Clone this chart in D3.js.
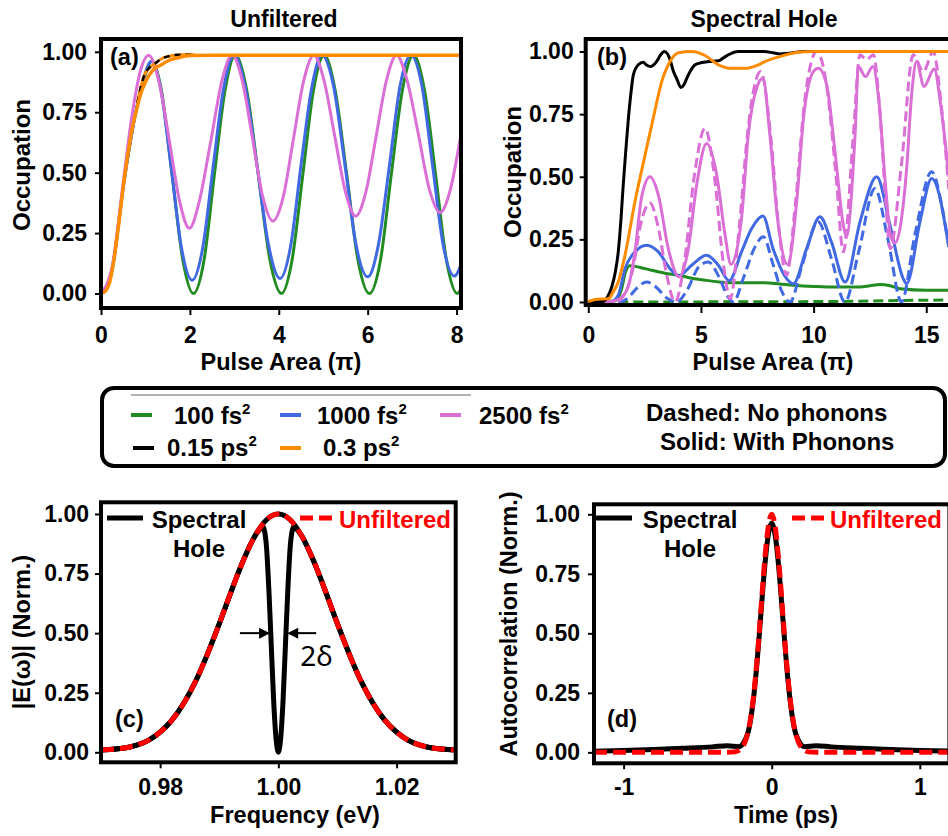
<!DOCTYPE html>
<html>
<head>
<meta charset="utf-8">
<title>Occupation vs pulse area, unfiltered and spectral hole</title>
<script src="https://cdn.jsdelivr.net/npm/d3@7"></script>
<style>
  body { margin: 0; background: #fff; }
  svg { display: block; }
</style>
</head>
<body>
<svg id="fig" width="948" height="836"></svg>
<script>
// ---------- values ----------
// (a) unfiltered: [pulse area (pi), occupation]
var aGreen = [[0,0],[0.25,0.1],[0.5,0.44],[0.75,0.72],[0.95,0.88],[1.14,0.96],[1.36,0.84],[1.6,0.49],[1.84,0.14],[2.08,0],
  [2.32,0.14],[2.55,0.49],[2.79,0.84],[3.02,0.986],[3.28,0.84],[3.54,0.49],[3.8,0.14],[4.06,0],[4.3,0.14],[4.54,0.49],
  [4.78,0.84],[5.02,0.986],[5.27,0.84],[5.53,0.49],[5.78,0.14],[6.04,0],[6.29,0.14],[6.53,0.49],[6.78,0.84],[7.03,0.986],
  [7.28,0.84],[7.53,0.49],[7.77,0.14],[8.02,0],[8.1,0.02]];
var aBlue = [[0,0],[0.25,0.1],[0.5,0.44],[0.75,0.72],[0.95,0.88],[1.13,0.96],[1.34,0.85],[1.58,0.52],[1.81,0.19],[2.05,0.055],
  [2.29,0.19],[2.52,0.52],[2.76,0.85],[2.99,0.986],[3.25,0.85],[3.51,0.53],[3.77,0.2],[4.03,0.062],[4.27,0.2],[4.5,0.53],
  [4.74,0.85],[4.97,0.986],[5.23,0.86],[5.49,0.53],[5.74,0.2],[6.0,0.069],[6.24,0.2],[6.49,0.53],[6.73,0.86],[6.97,0.986],
  [7.22,0.86],[7.46,0.53],[7.7,0.2],[7.95,0.072],[8.1,0.12]];
var aPink = [[0,0],[0.25,0.11],[0.5,0.46],[0.7,0.74],[0.9,0.93],[1.07,0.986],[1.3,0.88],[1.54,0.63],[1.77,0.38],[1.99,0.27],
  [2.21,0.38],[2.47,0.63],[2.72,0.88],[2.95,0.986],[3.18,0.88],[3.41,0.64],[3.64,0.4],[3.87,0.3],[4.1,0.4],[4.33,0.64],
  [4.56,0.88],[4.79,0.986],[5.02,0.88],[5.26,0.65],[5.5,0.42],[5.73,0.32],[5.96,0.42],[6.19,0.65],[6.42,0.88],[6.65,0.986],
  [6.89,0.88],[7.14,0.66],[7.39,0.43],[7.63,0.335],[7.86,0.43],[8.1,0.66]];
var aOrange = [[0,0],[0.1,0.01],[0.2,0.05],[0.3,0.15],[0.4,0.29],[0.5,0.44],[0.6,0.57],[0.7,0.68],[0.8,0.76],[0.9,0.83],
  [1.0,0.875],[1.2,0.93],[1.35,0.945],[1.5,0.962],[1.73,0.975],[2.0,0.985],[2.5,0.986],[8.1,0.986]];
var aFastRise = [[0.82,0.79],[0.98,0.905],[1.24,0.955],[1.43,0.977],[1.8,0.988],[2.1,0.988]];

// (b) spectral hole
var bGreen = [[0,0],[1.2,0.005],[1.48,0.053],[1.65,0.12],[1.85,0.145],[2.3,0.138],[2.81,0.127],[3.4,0.115],[4.0,0.107],
  [4.6,0.095],[5.18,0.087],[5.8,0.08],[6.36,0.077],[7.0,0.077],[7.84,0.077],[8.5,0.072],[9.1,0.067],[10.0,0.062],
  [10.58,0.06],[12.06,0.06],[12.5,0.065],[12.95,0.07],[13.4,0.065],[13.84,0.053],[15.0,0.047],[16,0.047]];
var bGreenDash = [[0,0],[8,0.001],[12,0.003],[14,0.006],[16,0.008]];
var bBlue = [[0,0],[1.0,0],[1.33,0.027],[1.63,0.133],[2.07,0.2],[2.59,0.227],[3.11,0.2],[3.63,0.133],[4.0,0.105],
  [4.59,0.147],[5.25,0.187],[5.77,0.147],[6.25,0.085],[6.8,0.2],[7.25,0.293],[7.75,0.343],[8.2,0.213],[8.7,0.107],
  [9.1,0.073],[9.69,0.213],[10.28,0.34],[10.79,0.24],[11.4,0.08],[12.06,0.32],[12.8,0.5],[13.39,0.307],[13.98,0.093],
  [14.13,0.073],[14.72,0.32],[15.24,0.493],[15.6,0.42],[15.85,0.3],[16,0.22]];
var bBlueDash = [[0,0],[1.4,0],[1.8,0.02],[2.2,0.06],[2.59,0.08],[3.0,0.06],[3.5,0.015],[3.92,0],[4.4,0.05],[4.9,0.14],
  [5.33,0.16],[5.8,0.1],[6.2,0.02],[6.44,0],[6.9,0.1],[7.4,0.22],[7.77,0.26],[8.2,0.15],[8.6,0.04],[8.95,0],[9.5,0.15],
  [10.2,0.32],[10.8,0.17],[11.39,0],[12.0,0.2],[12.72,0.453],[13.3,0.25],[13.9,0],[14.5,0.27],[15.24,0.52],[15.7,0.38],
  [16,0.22]];
var bPink = [[0,0],[0.8,0],[1.18,0.005],[1.5,0.02],[1.8,0.07],[2.07,0.2],[2.37,0.42],[2.74,0.5],[3.11,0.427],[3.55,0.213],
  [4.03,0.1],[4.44,0.213],[4.81,0.467],[5.25,0.633],[5.7,0.507],[6.07,0.267],[6.33,0.15],[6.8,0.333],[7.1,0.667],
  [7.47,0.853],[7.75,0.893],[8.06,0.667],[8.4,0.333],[8.85,0.15],[9.25,0.4],[9.55,0.733],[9.99,0.92],[10.21,0.933],
  [10.58,0.867],[10.95,0.6],[11.32,0.307],[11.45,0.26],[11.84,0.667],[11.99,0.94],[12.3,0.9],[12.63,0.94],[12.9,0.8],
  [13.19,0.467],[13.41,0.267],[13.6,0.235],[14.13,0.533],[14.35,0.827],[14.57,0.96],[14.9,0.86],[15.35,0.93],
  [15.65,0.78],[16,0.5]];
var bPinkDash = [[0,0],[1.2,0],[1.6,0.03],[2.0,0.14],[2.3,0.3],[2.74,0.395],[3.1,0.3],[3.5,0.1],[3.85,0],[4.25,0.15],
  [4.7,0.5],[5.18,0.693],[5.6,0.5],[6.0,0.15],[6.3,0.013],[6.7,0.3],[7.1,0.7],[7.65,0.92],[8.1,0.66],[8.45,0.3],
  [8.8,0.107],[9.2,0.4],[9.6,0.8],[10.14,1.0],[10.6,0.85],[11.0,0.5],[11.32,0.2],[11.75,0.65],[12.06,0.987],
  [12.35,0.967],[12.65,0.987],[12.95,0.75],[13.2,0.4],[13.4,0.213],[13.9,0.55],[14.42,0.987],[14.87,0.92],[15.31,1.0],
  [15.65,0.8],[16,0.45]];
var bBlack = [[0,0],[0.4,0],[0.67,0.003],[0.85,0.02],[1.04,0.06],[1.2,0.12],[1.33,0.2],[1.45,0.33],[1.55,0.467],
  [1.67,0.61],[1.78,0.733],[1.9,0.84],[2.0,0.907],[2.22,0.947],[2.44,0.957],[2.6,0.945],[2.74,0.94],[3.03,0.96],
  [3.2,0.985],[3.37,1.0],[3.52,0.99],[3.63,0.967],[3.78,0.92],[3.92,0.893],[4.11,0.856],[4.25,0.868],[4.37,0.893],
  [4.55,0.925],[4.74,0.947],[5.0,0.955],[5.33,0.96],[5.77,0.963],[6.0,0.975],[6.22,0.987],[6.66,1.0],[7.8,1.0],
  [8.2,0.995],[8.5,0.99],[8.9,0.993],[9.55,1.0],[16,1.0]];
var bOrange = [[0,0.002],[0.3,0.01],[0.6,0.012],[0.89,0.013],[1.1,0.04],[1.33,0.08],[1.63,0.187],[2.07,0.4],[2.52,0.587],
  [2.88,0.733],[3.26,0.88],[3.63,0.96],[3.99,0.995],[4.59,1.0],[5.18,0.984],[5.77,0.947],[6.36,0.933],[6.95,0.933],
  [7.55,0.947],[7.84,0.96],[8.5,0.98],[9.4,0.998],[10,1.0],[16,1.0]];

// (c) spectrum
var freqC = [0.970,0.972,0.974,0.976,0.978,0.980,0.982,0.984,0.986,0.988,0.990,0.992,0.994,0.996,0.998,1.000,
  1.002,1.004,1.006,1.008,1.010,1.012,1.014,1.016,1.018,1.020,1.022,1.024,1.026,1.028,1.030];
var unfiltC = [0.01,0.013,0.018,0.03,0.05,0.085,0.135,0.206,0.298,0.411,0.539,0.674,0.801,0.906,0.976,1.0,
  0.976,0.906,0.801,0.674,0.539,0.411,0.298,0.206,0.135,0.085,0.05,0.03,0.018,0.013,0.01];
var holeFreqC = [0.970,0.974,0.978,0.982,0.986,0.990,0.994,0.996,0.997,0.9973,0.9976,0.998,0.9984,0.9988,0.9992,0.9996,
  1.0,1.0004,1.0008,1.0012,1.0016,1.002,1.0024,1.0027,1.003,1.004,1.006,1.010,1.014,1.018,1.022,1.026,1.030];
var holeC = [0.01,0.018,0.05,0.135,0.298,0.539,0.801,0.906,0.94,0.948,0.935,0.86,0.68,0.45,0.22,0.06,
  0,0.06,0.22,0.45,0.68,0.86,0.935,0.948,0.94,0.906,0.801,0.539,0.298,0.135,0.05,0.018,0.01];

// (d) autocorrelation
var timeD = [-1.2,-0.6,-0.3,-0.25,-0.2,-0.175,-0.15,-0.125,-0.1,-0.075,-0.05,-0.025,0,
  0.025,0.05,0.075,0.1,0.125,0.15,0.175,0.2,0.25,0.3,0.6,1.2];
var unfiltD = [0,0,0,0.002,0.021,0.052,0.114,0.222,0.381,0.581,0.786,0.94,1.0,
  0.94,0.786,0.581,0.381,0.222,0.114,0.052,0.021,0.002,0,0,0];
var holeTimeD = [-1.2,-1.0,-0.8,-0.6,-0.4,-0.3,-0.22,-0.19,-0.15,-0.125,-0.1,-0.075,-0.05,-0.025,0,
  0.025,0.05,0.075,0.1,0.125,0.15,0.19,0.22,0.3,0.4,0.6,0.8,1.0,1.2];
var holeD = [0.005,0.008,0.012,0.017,0.023,0.028,0.024,0.04,0.11,0.215,0.37,0.565,0.76,0.905,0.962,
  0.905,0.76,0.565,0.37,0.215,0.11,0.04,0.024,0.028,0.023,0.017,0.012,0.008,0.005];

var occTicks = [0, 0.25, 0.5, 0.75, 1];
var aTicks = [0, 2, 4, 6, 8];
var bTicks = [0, 5, 10, 15];
var cTicks = [0.98, 1.00, 1.02];
var dTicks = [-1, 0, 1];

// ---------- drawing ----------
var FONT = '"Liberation Sans", Arial, Helvetica, sans-serif';
var green = '#228b22', blue = '#4169e1', pink = '#da70d6', orange = '#ff8c00', red = '#ff0000';
var dashSmall = '10,5', dashBig = '13,6';

var svg = d3.select('#fig')
  .attr('font-family', FONT)
  .attr('font-weight', 'bold');
svg.append('rect').attr('width', 948).attr('height', 836).attr('fill', '#fff');

function makePanel(o) {
  var x = d3.scaleLinear().domain(o.xd).range([o.left, o.right]);
  var y = d3.scaleLinear().domain(o.yd).range([o.bottom, o.top]);
  svg.append('clipPath').attr('id', 'clip-' + o.name)
    .append('rect')
    .attr('x', o.left).attr('y', o.top)
    .attr('width', o.right - o.left).attr('height', o.bottom - o.top);
  var g = svg.append('g').attr('clip-path', 'url(#clip-' + o.name + ')');
  return {x: x, y: y, g: g, o: o};
}

function addLine(p, data, color, width, dash) {
  var line = d3.line()
    .x(function(d) { return p.x(d[0]); })
    .y(function(d) { return p.y(d[1]); })
    .curve(d3.curveMonotoneX);
  p.g.append('path')
    .datum(data)
    .attr('d', line)
    .attr('fill', 'none')
    .attr('stroke', color)
    .attr('stroke-width', width)
    .attr('stroke-dasharray', dash || null)
    .attr('stroke-linejoin', 'round');
}

function styleAxis(sel) {
  sel.attr('font-family', FONT).attr('font-size', 23).attr('font-weight', 'bold');
  sel.select('.domain').remove();
  sel.selectAll('.tick line').attr('stroke', '#000').attr('stroke-width', 2);
  sel.selectAll('.tick text').attr('fill', '#000');
}

function finishPanel(p, xt, xfmt, xTick, xPad, yPad) {
  var o = p.o;
  svg.append('g')
    .attr('transform', 'translate(0,' + o.bottom + ')')
    .call(d3.axisBottom(p.x).tickValues(xt).tickFormat(xfmt).tickSize(xTick).tickPadding(xPad))
    .call(styleAxis);
  svg.append('g')
    .attr('transform', 'translate(' + o.left + ',0)')
    .call(d3.axisLeft(p.y).tickValues(occTicks).tickFormat(d3.format('.2f')).tickSize(6).tickPadding(yPad))
    .call(styleAxis);
  svg.append('rect')
    .attr('x', o.left).attr('y', o.top)
    .attr('width', o.right - o.left).attr('height', o.bottom - o.top)
    .attr('fill', 'none').attr('stroke', '#000').attr('stroke-width', 4);
}

function label(x, y, txt, size, opts) {
  opts = opts || {};
  var t = svg.append('text')
    .attr('x', x).attr('y', y)
    .attr('font-size', size)
    .attr('text-anchor', opts.anchor || 'middle')
    .attr('fill', opts.color || '#000')
    .text(txt);
  if (opts.rotate) {
    t.attr('x', 0).attr('y', 0)
      .attr('transform', 'translate(' + x + ',' + y + ') rotate(-90)');
  }
  if (opts.family) t.attr('font-family', opts.family);
  if (opts.weight) t.attr('font-weight', opts.weight);
  return t;
}

var intFmt = function(d) { return String(d); };

// panel (a)
var pa = makePanel({name: 'a', left: 101, right: 461, top: 39, bottom: 308, xd: [0, 8.1], yd: [-0.06, 1.053]});
addLine(pa, aGreen, green, 3);
addLine(pa, aBlue, blue, 3);
addLine(pa, aPink, pink, 3);
addLine(pa, aFastRise, orange, 3);
addLine(pa, aFastRise, '#000', 2.5, '6,5');
addLine(pa, aOrange, orange, 3.5);
finishPanel(pa, aTicks, intFmt, 7, 12, 8);

// panel (b)
var pb = makePanel({name: 'b', left: 585.7, right: 953.3, top: 39, bottom: 305, xd: [-0.115, 16.2], yd: [-0.012, 1.05]});
addLine(pb, bGreenDash, green, 3, dashSmall);
addLine(pb, bGreen, green, 3);
addLine(pb, bBlueDash, blue, 3, dashSmall);
addLine(pb, bBlue, blue, 3);
addLine(pb, bPinkDash, pink, 3, dashSmall);
addLine(pb, bPink, pink, 3);
addLine(pb, bBlack, '#000', 3);
addLine(pb, bOrange, orange, 3);
finishPanel(pb, bTicks, intFmt, 8, 14, 6);

// panel (c)
var pc = makePanel({name: 'c', left: 101, right: 455.7, top: 502.3, bottom: 762.3, xd: [0.97, 1.03], yd: [-0.042, 1.049]});
addLine(pc, d3.zip(holeFreqC, holeC), '#000', 5);
addLine(pc, d3.zip(freqC, unfiltC), '#000', 5);
addLine(pc, d3.zip(freqC, unfiltC), red, 5, dashBig);
finishPanel(pc, cTicks, d3.format('.2f'), 6, 10, 6);

// panel (d)
var pd = makePanel({name: 'd', left: 594, right: 949.4, top: 504.3, bottom: 763.3, xd: [-1.2, 1.2], yd: [-0.046, 1.042]});
addLine(pd, d3.zip(holeTimeD, holeD), '#000', 5);
addLine(pd, d3.zip(timeD, unfiltD), red, 5, dashBig);
finishPanel(pd, dTicks, intFmt, 6, 9, 8);

// titles and axis labels
label(284, 27, 'Unfiltered', 23);
label(764, 27, 'Spectral Hole', 23);
label(281, 370, 'Pulse Area (\u03c0)', 23.5);
label(773, 370, 'Pulse Area (\u03c0)', 23.5);
label(30, 165, 'Occupation', 24, {rotate: true});
label(521, 172, 'Occupation', 24, {rotate: true});
label(30, 632, '|E(\u03c9)| (Norm.)', 23.5, {rotate: true});
label(517, 624, 'Autocorrelation (Norm.)', 23.5, {rotate: true});
label(295, 823, 'Frequency (eV)', 23.5);
label(786, 823, 'Time (ps)', 23.5);

label(110, 65, '(a)', 23.5, {anchor: 'start'});
label(597, 65, '(b)', 23.5, {anchor: 'start'});
label(115, 727, '(c)', 23.5, {anchor: 'start'});
label(607, 727, '(d)', 23.5, {anchor: 'start'});

// (c) annotation: hole width arrows
var arrowY = pc.y(0.5);
var arrows = [{tail: 0.9935, tip: 0.9986}, {tail: 1.0064, tip: 1.0015}];
arrows.forEach(function(a) {
  var x0 = pc.x(a.tail), x1 = pc.x(a.tip), s = x1 > x0 ? 1 : -1;
  svg.append('line')
    .attr('x1', x0).attr('y1', arrowY).attr('x2', x1 - s * 8).attr('y2', arrowY)
    .attr('stroke', '#000').attr('stroke-width', 2);
  svg.append('path')
    .attr('d', 'M' + x1 + ',' + arrowY + 'L' + (x1 - s * 11) + ',' + (arrowY - 5.5) +
      'L' + (x1 - s * 11) + ',' + (arrowY + 5.5) + 'Z')
    .attr('fill', '#000');
});
label(pc.x(1.0037), pc.y(0.362), '2\u03b4', 28, {anchor: 'start', family: '"Noto Sans", "DejaVu Sans", sans-serif', weight: 'normal'});

// (c) and (d) legends
[{left: 101, xs: [107, 143, 199, 300, 333, 339]}, {left: 594, xs: [596, 632, 690, 792, 824, 830]}].forEach(function(l) {
  var xs = l.xs;
  svg.append('line').attr('x1', xs[0]).attr('x2', xs[1]).attr('y1', 518).attr('y2', 518)
    .attr('stroke', '#000').attr('stroke-width', 5);
  label(xs[2], 528, 'Spectral', 24);
  label(xs[2], 556.5, 'Hole', 24);
  svg.append('line').attr('x1', xs[3]).attr('x2', xs[4]).attr('y1', 518).attr('y2', 518)
    .attr('stroke', red).attr('stroke-width', 5).attr('stroke-dasharray', '13,6');
  label(xs[5], 528, 'Unfiltered', 24, {anchor: 'start', color: red});
});

// main legend
svg.append('rect')
  .attr('x', 102).attr('y', 388).attr('width', 843).attr('height', 78)
  .attr('rx', 12).attr('ry', 12)
  .attr('fill', 'none').attr('stroke', '#000').attr('stroke-width', 4);
svg.append('line').attr('x1', 131).attr('x2', 471).attr('y1', 395).attr('y2', 395)
  .attr('stroke', '#999').attr('stroke-width', 1.5);

var legendItems = [
  {color: green, sw: 131, tx: 174, row: 0, base: '100 fs', sup: '2'},
  {color: blue, sw: 280, tx: 317, row: 0, base: '1000 fs', sup: '2'},
  {color: pink, sw: 440, tx: 479, row: 0, base: '2500 fs', sup: '2'},
  {color: '#000', sw: 133, tx: 167, row: 1, base: '0.15 ps', sup: '2'},
  {color: orange, sw: 280, tx: 323, row: 1, base: '0.3 ps', sup: '2'}
];
var rowY = [415, 448], rowBase = [424, 456];
legendItems.forEach(function(it) {
  svg.append('line')
    .attr('x1', it.sw).attr('x2', it.sw + 21)
    .attr('y1', rowY[it.row]).attr('y2', rowY[it.row])
    .attr('stroke', it.color).attr('stroke-width', 4);
  var t = svg.append('text')
    .attr('x', it.tx).attr('y', rowBase[it.row])
    .attr('font-size', 24);
  t.append('tspan').text(it.base);
  t.append('tspan').attr('dy', -10).attr('font-size', 15).text(it.sup);
});
label(646, 421, 'Dashed: No phonons', 24, {anchor: 'start'});
label(660, 450, 'Solid: With Phonons', 24, {anchor: 'start'});
</script>
</body>
</html>
